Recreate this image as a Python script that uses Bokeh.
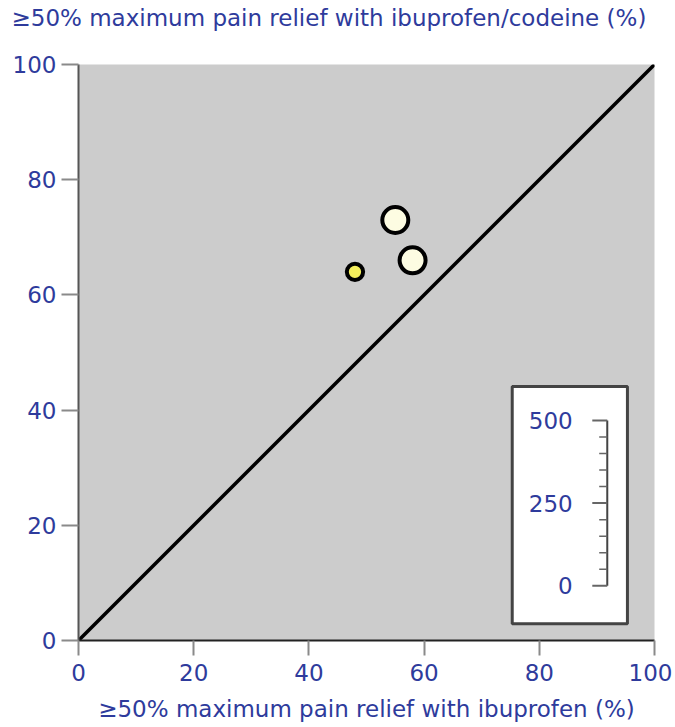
from bokeh.plotting import figure
from bokeh.models import Range1d, FixedTicker, ColumnDataSource, Title, LinearAxis
from bokeh.embed import file_html
from bokeh.resources import INLINE
from bokeh.core.properties import value
import numpy as np

# ---- data ----
ibuprofen = [48, 55, 58]          # % with >=50% max pain relief, ibuprofen
ibu_codeine = [64, 73, 66]        # % with >=50% max pain relief, ibuprofen/codeine
patients = [63, 160, 160]         # trial size (circle size)
fill_colors = ["#f4ef5c", "#fdfce2", "#fdfce2"]
axis_ticks = [0, 20, 40, 60, 80, 100]
scale_major = [0, 250, 500]
scale_minor = [50, 100, 150, 200, 300, 350, 400, 450]
equality = [0, 100]
x_title = "≥50% maximum pain relief with ibuprofen (%)"
y_title = "≥50% maximum pain relief with ibuprofen/codeine (%)"

BLUE = "#2e3b9c"
FONT = "DejaVu Sans"
FS = "23px"

p = figure(width=672, height=727, output_backend="svg", toolbar_location=None,
           x_range=Range1d(0, 100), y_range=Range1d(0, 100),
           min_border_left=78, min_border_right=18, min_border_top=64, min_border_bottom=87,
           background_fill_color="#cccccc", border_fill_color="white")
p.outline_line_color = None
p.grid.grid_line_color = None

xaxis = p.xaxis[0]
yaxis = p.yaxis[0]
for ax in (xaxis, yaxis):
    ax.ticker = FixedTicker(ticks=axis_ticks)
    ax.major_label_text_font = FONT
    ax.major_label_text_font_size = FS
    ax.major_label_text_color = BLUE
    ax.major_tick_in = 0
    ax.major_tick_line_color = "#8a8a8a"
    ax.major_tick_line_width = 2
    ax.minor_tick_line_color = None
    ax.axis_line_width = 2

xaxis.major_tick_out = 15
yaxis.major_tick_out = 17
xaxis.axis_line_color = "#222222"
yaxis.axis_line_color = "#555555"
xaxis.axis_label = x_title
xaxis.axis_label_text_font = FONT
xaxis.axis_label_text_font_size = FS
xaxis.axis_label_text_font_style = "normal"
xaxis.axis_label_text_color = BLUE
xaxis.major_label_standoff = 8
xaxis.axis_label_standoff = 12
yaxis.major_label_standoff = 5

# invisible spacer above the frame, then the y-quantity title outside it
spacer = LinearAxis(ticker=FixedTicker(ticks=[]), axis_line_color=None,
                    major_tick_out=0, major_tick_in=0, major_tick_line_color=None,
                    minor_tick_line_color=None, major_label_text_font_size="0px",
                    axis_label=".", axis_label_text_font_size="2px",
                    axis_label_text_color="white", axis_label_standoff=28)
p.add_layout(spacer, "above")
p.add_layout(Title(text=y_title, text_font=FONT, text_font_size=FS,
                   text_font_style="normal", text_color=BLUE, align="left",
                   offset=-67, standoff=4), "above")

# line of equality
p.line(equality, equality, line_color="black", line_width=3.5)

# trials
src = ColumnDataSource(dict(x=ibuprofen, y=ibu_codeine,
                            size=[2.055 * np.sqrt(n) for n in patients],
                            color=fill_colors))
p.scatter("x", "y", size="size", source=src, fill_color="color",
          line_color="black", line_width=4)

# ---- size scale key ----
p.quad(left=75.3, right=95.3, bottom=2.9, top=44.1, fill_color="white",
       line_color="#444444", line_width=3)

# map scale values onto the key: 0 -> y 9.5, 500 -> y 38.2
y0, y1 = 9.5, 38.2
smax = max(scale_major)
k = (y1 - y0) / smax
p.extra_y_ranges = {"scale": Range1d(-y0 / k, (100 - y0) / k)}

xs = 91.8
p.segment(x0=[xs], y0=[min(scale_major)], x1=[xs], y1=[smax],
          y_range_name="scale", line_color="#444444", line_width=2)
p.segment(x0=[xs - 2.6] * len(scale_major), y0=scale_major,
          x1=[xs] * len(scale_major), y1=scale_major,
          y_range_name="scale", line_color="#666666", line_width=2)
p.segment(x0=[xs - 1.4] * len(scale_minor), y0=scale_minor,
          x1=[xs] * len(scale_minor), y1=scale_minor,
          y_range_name="scale", line_color="#666666", line_width=1.5)
p.text(x=[85.8] * len(scale_major), y=scale_major, text=[str(v) for v in scale_major],
       y_range_name="scale", text_font=value(FONT), text_font_size=FS,
       text_color=BLUE, text_align="right", text_baseline="middle")

open("out.html", "w").write(file_html(p, INLINE))
